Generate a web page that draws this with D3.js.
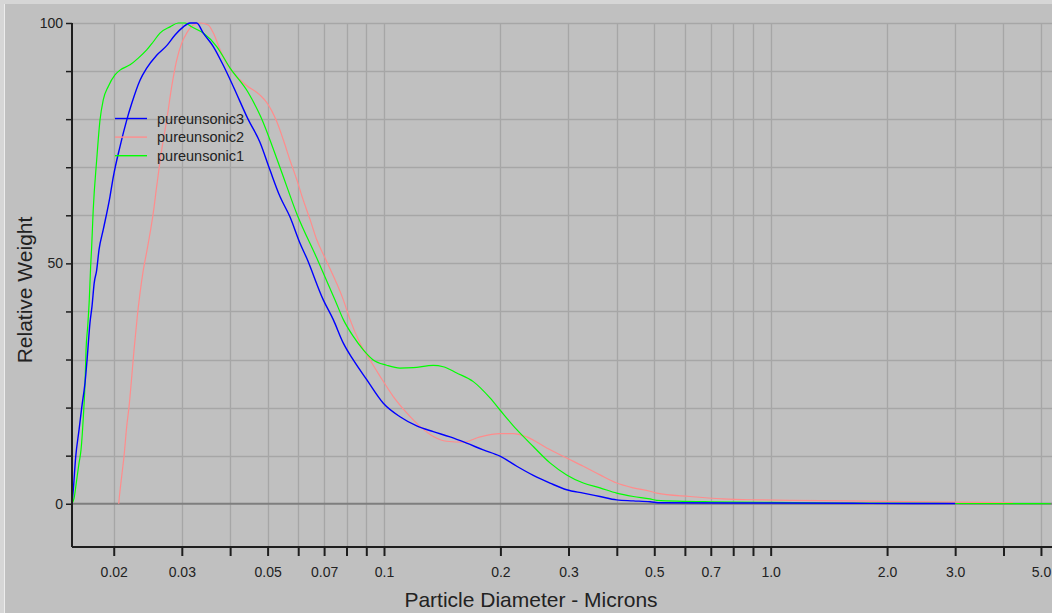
<!DOCTYPE html>
<html>
<head>
<meta charset="utf-8">
<script src="https://cdn.jsdelivr.net/npm/d3@7"></script>
<style>
html,body{margin:0;padding:0;background:#c0c0c0;}
svg{display:block;font-family:"Liberation Sans",Arial,sans-serif;}
</style>
</head>
<body>
<svg id="chart" width="1052" height="613"></svg>
<script>
// ---- data ----
const seriesNames = ["pureunsonic3", "pureunsonic2", "pureunsonic1"];

const pureunsonic3 = [
  [0.0156,0],[0.01572,2.9],[0.01595,9.8],[0.01627,15.4],[0.01653,20],[0.01686,25.2],[0.01709,30.6],
  [0.01736,37.6],[0.01757,41],[0.01781,46],[0.01807,48.6],[0.01832,52.8],[0.01879,57],[0.01956,63.9],
  [0.01995,68],[0.02076,74.3],[0.02161,79.8],[0.02227,83.3],[0.02339,88.1],[0.02434,90.6],[0.02583,93.3],
  [0.02742,95.3],[0.02881,97.5],[0.03027,99.2],[0.03149,100],[0.03277,100],[0.03409,97.9],[0.03619,95.1],
  [0.0384,91.2],[0.04076,86.8],[0.0445,80],[0.04777,75.2],[0.05072,69.4],[0.05383,63.9],[0.05711,59.7],
  [0.06064,54.2],[0.0631,51.1],[0.06966,42.4],[0.07393,38.3],[0.07849,33.4],[0.08329,29.9],[0.09022,25.8],
  [0.09959,20.9],[0.11,18.1],[0.1215,16.2],[0.1341,15],[0.1482,13.9],[0.1636,12.6],[0.1806,11.2],
  [0.1995,9.9],[0.2205,7.8],[0.2433,5.9],[0.2687,4.3],[0.2968,2.9],[0.3277,2.2],[0.3619,1.5],[0.3998,0.8],
  [0.4414,0.6],[0.4874,0.4],[0.52,0.2],[1.0,0.15],[1.8,0.08],[3.0,0.05]
];

const pureunsonic2 = [
  [0.0206,0],[0.02067,1.2],[0.02097,5.7],[0.02126,9.8],[0.02161,16.1],[0.02191,20.2],[0.02227,26.5],
  [0.02257,32],[0.02301,38.9],[0.02339,43.8],[0.02385,48.6],[0.02434,52.4],[0.02531,60.5],[0.02583,66],
  [0.02661,73.6],[0.02742,79.8],[0.02825,86.8],[0.0291,92.3],[0.02998,95.8],[0.03088,97.9],[0.03212,99.6],
  [0.03343,100],[0.0351,99.6],[0.0362,97.9],[0.0377,94.4],[0.0392,91.6],[0.0416,88.9],[0.0441,87],
  [0.0478,85],[0.0497,83.5],[0.0528,79.5],[0.0549,75.7],[0.0571,71.5],[0.0595,67.4],[0.0618,63.2],
  [0.0644,59.1],[0.067,54.9],[0.0704,51.1],[0.0785,42.4],[0.0817,38.3],[0.0867,33.4],[0.092,29.9],
  [0.0977,26.5],[0.1057,22.3],[0.1145,18.9],[0.1239,16.1],[0.1341,14],[0.1452,13],[0.1604,12.8],
  [0.1771,13.9],[0.1995,14.6],[0.216,14.6],[0.2339,13.9],[0.2635,11.6],[0.2968,9.5],[0.3277,7.8],
  [0.3619,6],[0.3998,4.3],[0.4414,3.3],[0.4874,2.6],[0.5073,2.2],[0.618,1.5],[0.754,1.0],[0.938,0.8],
  [1.12,0.7],[1.56,0.6],[2.58,0.4],[4.23,0.2]
];

const pureunsonic1 = [
  [0.0156,0],[0.0158,1.2],[0.016,4.3],[0.01627,8.5],[0.01646,11.2],[0.01669,18.1],[0.01686,25.1],
  [0.01696,32],[0.01713,36.9],[0.01729,42.4],[0.01743,49.3],[0.01754,53.5],[0.0177,61.1],[0.01807,71.5],
  [0.01843,79.8],[0.01879,84],[0.01936,86.8],[0.02015,89.2],[0.02076,90.2],[0.02204,91.3],[0.02315,92.7],
  [0.02434,94.4],[0.02531,96.1],[0.02634,97.9],[0.02797,99.2],[0.02938,100],[0.03057,100],[0.03181,99.2],
  [0.03409,97.9],[0.03693,95.1],[0.04,90.6],[0.0445,85.6],[0.048,80.5],[0.0538,70],[0.0597,60],
  [0.067,51.1],[0.0747,42.4],[0.0785,38.3],[0.0833,34.8],[0.0884,32],[0.0938,29.9],[0.1016,28.8],
  [0.11,28.2],[0.119,28.3],[0.1341,28.8],[0.1423,28.5],[0.1542,27.2],[0.1702,25.4],[0.188,22],
  [0.1995,19.5],[0.2205,15.4],[0.2433,11.9],[0.2687,8.5],[0.2968,6],[0.3277,4.3],[0.3619,3.3],
  [0.3998,2.2],[0.4414,1.5],[0.4874,1.0],[0.5073,0.7],[0.7,0.4],[1.0,0.3],[1.5,0.15],[3.0,0.05],[5.3,0]
];

const seriesColors = ["#0000ff", "#ff8c8c", "#00ff00"];

const xTicks = [0.02,0.03,0.04,0.05,0.06,0.07,0.08,0.09,0.1,0.2,0.3,0.4,0.5,0.6,0.7,0.8,0.9,1,2,3,4,5];
const xTickLabels = {0.02:"0.02",0.03:"0.03",0.05:"0.05",0.07:"0.07",0.1:"0.1",0.2:"0.2",0.3:"0.3",
  0.5:"0.5",0.7:"0.7",1:"1.0",2:"2.0",3:"3.0",5:"5.0"};
const yTicks = [0,10,20,30,40,50,60,70,80,90,100];
const yTickLabels = {0:"0",50:"50",100:"100"};

const xTitle = "Particle Diameter - Microns";
const yTitle = "Relative Weight";

// ---- layout ----
(function draw() {
const svg = d3.select("#chart");
const W = 1052, H = 613;
const pL = 72, pR = 1052, pT = 23, pB = 547;

svg.append("rect").attr("width", W).attr("height", H).attr("fill", "#c0c0c0");
svg.append("rect").attr("x",0).attr("y",0).attr("width",W).attr("height",4).attr("fill","#d6d6d6");
svg.append("rect").attr("x",0).attr("y",0).attr("width",4).attr("height",H).attr("fill","#d6d6d6");
svg.append("line").attr("x1",4.5).attr("x2",4.5).attr("y1",4).attr("y2",H).attr("stroke","#ececec");

const x = d3.scaleLog().domain([0.0156, 5.34]).range([pL, pR]);
const y = d3.scaleLinear().domain([-9, 100]).range([pB, pT]);

// grid
const grid = svg.append("g");
grid.selectAll("line.v").data(xTicks).join("line")
  .attr("x1", d => Math.round(x(d)) + 0.5).attr("x2", d => Math.round(x(d)) + 0.5)
  .attr("y1", pT).attr("y2", pB)
  .attr("stroke", "#a6a6a6").attr("stroke-width", 1.3);
grid.selectAll("line.h").data(yTicks.filter(d => d !== 0)).join("line")
  .attr("x1", pL).attr("x2", pR)
  .attr("y1", d => Math.round(y(d)) + 0.5).attr("y2", d => Math.round(y(d)) + 0.5)
  .attr("stroke", "#a6a6a6").attr("stroke-width", 1.3);
grid.append("line")
  .attr("x1", pL).attr("x2", pR)
  .attr("y1", y(0)).attr("y2", y(0))
  .attr("stroke", "#7e7e7e").attr("stroke-width", 2);

// lines
const line = d3.line().x(d => x(d[0])).y(d => y(d[1])).curve(d3.curveMonotoneX);
const allSeries = [pureunsonic3, pureunsonic2, pureunsonic1];
const drawOrder = [1, 2, 0];
drawOrder.forEach(i => {
  svg.append("path").datum(allSeries[i])
    .attr("d", line).attr("fill", "none")
    .attr("stroke", seriesColors[i]).attr("stroke-width", i === 0 ? 1.4 : 1.2);
});

// axes
const xAxis = d3.axisBottom(x).tickValues(xTicks)
  .tickFormat(d => xTickLabels[d] || "").tickSize(9).tickPadding(11);
const gx = svg.append("g").attr("transform", `translate(0,${pB})`).call(xAxis);
gx.select(".domain").remove();
gx.append("line").attr("x1", pL).attr("x2", pR).attr("y1", 0).attr("y2", 0)
  .attr("stroke", "#1e1e1e").attr("stroke-width", 2);
gx.selectAll(".tick line").attr("stroke", "#1e1e1e").attr("stroke-width", 2);
gx.selectAll(".tick text").attr("font-size", 14).attr("fill", "#222")
  .attr("font-family", "'Liberation Sans', Arial, sans-serif");

const yAxis = d3.axisLeft(y).tickValues(yTicks)
  .tickFormat(d => yTickLabels[d] || "").tickSize(6).tickPadding(3);
const gy = svg.append("g").attr("transform", `translate(${pL},0)`).call(yAxis);
gy.select(".domain").remove();
gy.append("line").attr("x1", 0).attr("x2", 0).attr("y1", pT).attr("y2", pB)
  .attr("stroke", "#1e1e1e").attr("stroke-width", 2);
gy.selectAll(".tick line").attr("stroke", "#1e1e1e").attr("stroke-width", 1.5);
gy.selectAll(".tick text").attr("font-size", 14).attr("fill", "#222")
  .attr("font-family", "'Liberation Sans', Arial, sans-serif");

// titles
svg.append("text").attr("x", 531).attr("y", 607).attr("text-anchor", "middle")
  .attr("font-size", 21).attr("fill", "#222").text(xTitle);
svg.append("text").attr("transform", "translate(32,290) rotate(-90)").attr("text-anchor", "middle")
  .attr("font-size", 21).attr("fill", "#222").text(yTitle);

// legend
const legend = svg.append("g");
seriesNames.forEach((name, i) => {
  const ly = 118.5 + i * 18.6;
  legend.append("line").attr("x1", 115).attr("x2", 147).attr("y1", ly).attr("y2", ly)
    .attr("stroke", seriesColors[i]).attr("stroke-width", 1.4);
  legend.append("text").attr("x", 157).attr("y", ly + 5).attr("font-size", 14.5)
    .attr("fill", "#222").text(name);
});
})();
</script>
</body>
</html>
